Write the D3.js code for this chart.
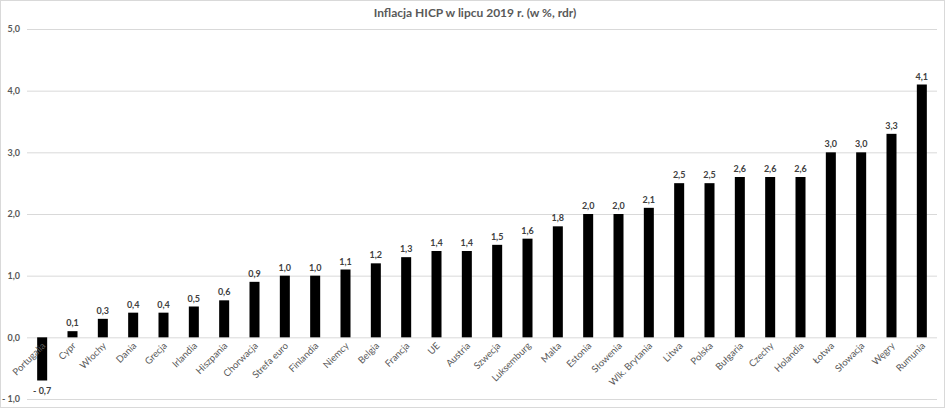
<!DOCTYPE html>
<html lang="pl">
<head>
    <meta charset="UTF-8">
    <title>Inflacja HICP w lipcu 2019</title>
    <style>
        body { margin: 0; background: #fff; font-family: 'Lato', 'Open Sans', sans-serif; }
        #chart svg { display: block; }
    </style>
</head>
<body>

<div id="chart"></div>

<script src="https://d3js.org/d3.v7.min.js"></script>
<script>
    // dane
    const countries = ["Portugalia", "Cypr", "Włochy", "Dania", "Grecja", "Irlandia", "Hiszpania",
        "Chorwacja", "Strefa euro", "Finlandia", "Niemcy", "Belgia", "Francja", "UE", "Austria",
        "Szwecja", "Luksemburg", "Malta", "Estonia", "Słowenia", "Wlk. Brytania", "Litwa", "Polska",
        "Bułgaria", "Czechy", "Holandia", "Łotwa", "Słowacja", "Węgry", "Rumunia"];
    const inflation = [-0.7, 0.1, 0.3, 0.4, 0.4, 0.5, 0.6, 0.9, 1.0, 1.0, 1.1, 1.2, 1.3, 1.4, 1.4,
        1.5, 1.6, 1.8, 2.0, 2.0, 2.1, 2.5, 2.5, 2.6, 2.6, 2.6, 3.0, 3.0, 3.3, 4.1];
    const yTicks = [-1, 0, 1, 2, 3, 4, 5];
    const title = "Inflacja HICP w lipcu 2019 r. (w %, rdr)";

    const width = 945, height = 408;
    const margin = { top: 29, right: 8, bottom: 9, left: 27 };

    const fmt = v => (v < 0 ? "- " : "") + Math.abs(v).toFixed(1).replace(".", ",");

    const svg = d3.select("#chart").append("svg")
        .attr("width", width)
        .attr("height", height);

    // ramka wykresu
    svg.append("rect")
        .attr("x", 0.5).attr("y", 0.5)
        .attr("width", width - 1).attr("height", height - 1)
        .attr("fill", "#fff")
        .attr("stroke", "#d9d9d9");

    const x = d3.scaleBand()
        .domain(countries)
        .range([margin.left, width - margin.right])
        .paddingInner(0.67)
        .paddingOuter(0.335);

    const y = d3.scaleLinear()
        .domain([-1, 5])
        .range([height - margin.bottom, margin.top]);

    // linie siatki + etykiety osi Y
    const yAxis = d3.axisLeft(y)
        .tickValues(yTicks)
        .tickSize(-(width - margin.right - margin.left))
        .tickFormat(fmt);

    svg.append("g")
        .attr("transform", `translate(${margin.left},0)`)
        .call(yAxis)
        .call(g => g.select(".domain").remove())
        .call(g => g.selectAll(".tick line").attr("stroke", "#d9d9d9"))
        .call(g => g.selectAll(".tick text")
            .attr("x", -7)
            .attr("fill", "#595959")
            .attr("font-size", 9)
            .attr("font-weight", "bold")
            .attr("font-family", "Lato, sans-serif"));

    // słupki
    svg.append("g")
        .selectAll("rect")
        .data(inflation)
        .join("rect")
        .attr("x", (d, i) => x(countries[i]))
        .attr("width", x.bandwidth())
        .attr("y", d => y(Math.max(0, d)))
        .attr("height", d => Math.abs(y(d) - y(0)))
        .attr("fill", "#000");

    // etykiety wartości
    svg.append("g")
        .selectAll("text")
        .data(inflation)
        .join("text")
        .attr("x", (d, i) => x(countries[i]) + x.bandwidth() / 2)
        .attr("y", d => d >= 0 ? y(d) - 5 : y(d) + 13)
        .attr("text-anchor", "middle")
        .attr("font-size", 9)
        .attr("font-weight", "bold")
        .attr("fill", "#404040")
        .text(fmt);

    // etykiety kategorii (obrócone)
    svg.append("g")
        .selectAll("text")
        .data(countries)
        .join("text")
        .attr("transform", d => `translate(${x(d) + x.bandwidth() / 2 + 4},${y(0) + 9}) rotate(-45)`)
        .attr("text-anchor", "end")
        .attr("font-size", 9.5)
        .attr("fill", "#595959")
        .text(d => d);

    // tytuł
    svg.append("text")
        .attr("x", 475)
        .attr("y", 17)
        .attr("text-anchor", "middle")
        .attr("font-size", 12)
        .attr("font-weight", "bold")
        .attr("fill", "#595959")
        .text(title);
</script>

</body>
</html>
